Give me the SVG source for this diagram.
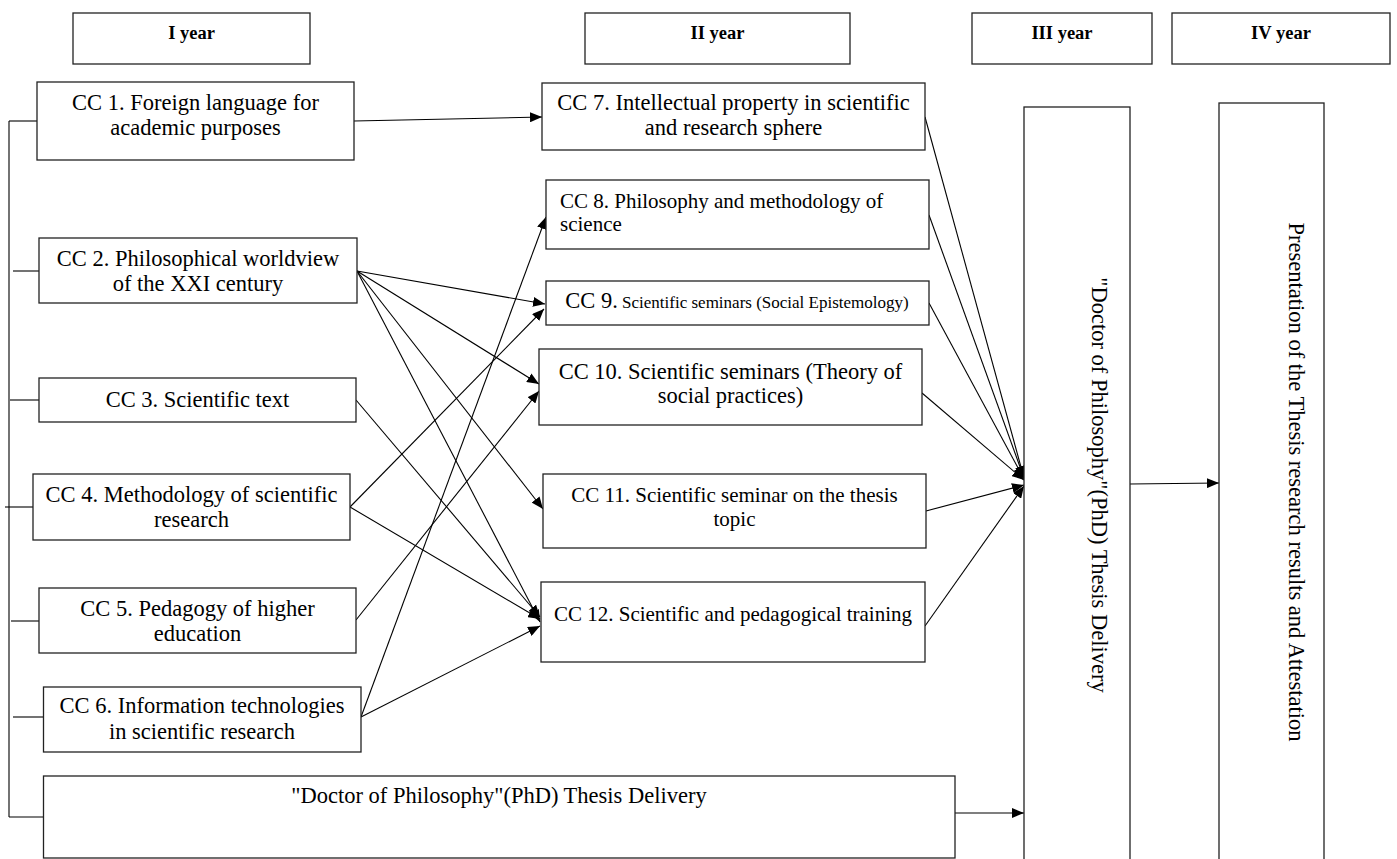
<svg xmlns="http://www.w3.org/2000/svg" width="1397" height="859" viewBox="0 0 1397 859">
<style>
  .box { fill: #ffffff; stroke: #222222; stroke-width: 1.3; }
  .t { font-family: "Liberation Serif", "Times New Roman", serif; font-size: 22.5px; fill: #000; }
  .c { text-anchor: middle; }
  .s21 { font-size: 21px; }
  .h { font-family: "Liberation Serif", "Times New Roman", serif; font-size: 18.5px; font-weight: bold; fill: #000; text-anchor: middle; }
  .sm { font-size: 17px; }
  .ln { stroke: #000; stroke-width: 1.1; fill: none; }
  .ar { stroke: #000; stroke-width: 1.1; fill: none; marker-end: url(#arrow); }
</style>
<defs>
  <marker id="arrow" markerUnits="userSpaceOnUse" markerWidth="13" markerHeight="10" refX="12" refY="5" orient="auto">
    <path d="M0,0 L12,5 L0,10 Z" fill="#000"/>
  </marker>
</defs>
<rect x="0" y="0" width="1397" height="859" fill="#ffffff"/>

<g id="headers">
  <g id="h1"><rect class="box" x="73" y="13" width="237" height="51"/><text class="h" x="191.5" y="39">I year</text></g>
  <g id="h2"><rect class="box" x="585" y="13" width="265" height="51"/><text class="h" x="717.5" y="39">II year</text></g>
  <g id="h3"><rect class="box" x="972" y="13" width="180" height="51"/><text class="h" x="1062" y="39">III year</text></g>
  <g id="h4"><rect class="box" x="1172" y="13" width="218" height="51"/><text class="h" x="1281" y="39">IV year</text></g>
</g>

<g id="connectors">
  <path class="ln" d="M9,121 V817"/>
  <path class="ln" d="M9,121 H37"/>
  <path class="ln" d="M13,271 H39"/>
  <path class="ln" d="M10,400 H39"/>
  <path class="ln" d="M5,507 H33"/>
  <path class="ln" d="M11,621 H39"/>
  <path class="ln" d="M13,717 H43"/>
  <path class="ln" d="M9,817 H43"/>

  <line class="ar" x1="354" y1="121" x2="542" y2="117"/>
  <line class="ar" x1="357" y1="271" x2="545" y2="304"/>
  <line class="ar" x1="357" y1="271" x2="539" y2="384"/>
  <line class="ar" x1="357" y1="271" x2="543" y2="509"/>
  <line class="ar" x1="357" y1="271" x2="540" y2="622"/>
  <line class="ar" x1="356" y1="400" x2="540" y2="617"/>
  <line class="ar" x1="350" y1="507" x2="544" y2="309"/>
  <line class="ar" x1="350" y1="507" x2="540" y2="619"/>
  <line class="ar" x1="356" y1="620" x2="539" y2="391"/>
  <line class="ar" x1="361" y1="717" x2="546" y2="217"/>
  <line class="ar" x1="361" y1="717" x2="540" y2="626"/>

  <line class="ar" x1="925" y1="117" x2="1024" y2="478"/>
  <line class="ar" x1="929" y1="215" x2="1024" y2="478"/>
  <line class="ar" x1="929" y1="303" x2="1024" y2="479"/>
  <line class="ar" x1="922" y1="393" x2="1024" y2="480"/>
  <line class="ar" x1="926" y1="511" x2="1024" y2="485"/>
  <line class="ar" x1="925" y1="626" x2="1024" y2="486"/>

  <line class="ar" x1="1130" y1="484" x2="1219" y2="483"/>
  <line class="ar" x1="955" y1="813" x2="1024" y2="813"/>
</g>

<g id="cc1"><rect class="box" x="37" y="82" width="317" height="78"/>
  <text class="t c" x="195.5" y="110">CC 1. Foreign language for</text>
  <text class="t c" x="195.5" y="135">academic purposes</text></g>
<g id="cc2"><rect class="box" x="39" y="238" width="318" height="65"/>
  <text class="t c" x="198" y="266">CC 2. Philosophical worldview</text>
  <text class="t c" x="198" y="291">of the XXI century</text></g>
<g id="cc3"><rect class="box" x="39" y="378" width="317" height="44"/>
  <text class="t c" x="197.5" y="407">CC 3. Scientific text</text></g>
<g id="cc4"><rect class="box" x="33" y="474" width="317" height="66"/>
  <text class="t c" x="191.5" y="502">CC 4. Methodology of scientific</text>
  <text class="t c" x="191.5" y="527">research</text></g>
<g id="cc5"><rect class="box" x="39" y="588" width="317" height="65"/>
  <text class="t c" x="197.5" y="616">CC 5. Pedagogy of higher</text>
  <text class="t c" x="197.5" y="641">education</text></g>
<g id="cc6"><rect class="box" x="43.5" y="687" width="317.5" height="65"/>
  <text class="t c" x="202" y="713">CC 6. Information technologies</text>
  <text class="t c" x="202" y="739">in scientific research</text></g>
<g id="thesis1"><rect class="box" x="43.5" y="776" width="911.5" height="82"/>
  <text class="t c" x="499" y="803">"Doctor of Philosophy"(PhD) Thesis Delivery</text></g>

<g id="cc7"><rect class="box" x="542" y="83" width="383" height="67"/>
  <text class="t c" x="733.5" y="110">CC 7. Intellectual property in scientific</text>
  <text class="t c" x="733.5" y="135">and research sphere</text></g>
<g id="cc8"><rect class="box" x="546" y="180" width="383" height="69"/>
  <text class="t s21" x="560" y="208">CC 8. Philosophy and methodology of</text>
  <text class="t s21" x="560" y="231">science</text></g>
<g id="cc9"><rect class="box" x="546" y="281" width="383" height="44"/>
  <text class="t c" x="737" y="308">CC 9.<tspan class="sm"> Scientific seminars (Social Epistemology)</tspan></text></g>
<g id="cc10"><rect class="box" x="539" y="349" width="383" height="76"/>
  <text class="t c" x="730.5" y="379">CC 10. Scientific seminars (Theory of</text>
  <text class="t c" x="730.5" y="403">social practices)</text></g>
<g id="cc11"><rect class="box" x="543" y="474" width="383" height="74"/>
  <text class="t c s21" x="734.5" y="502">CC 11. Scientific seminar on the thesis</text>
  <text class="t c s21" x="734.5" y="526">topic</text></g>
<g id="cc12"><rect class="box" x="541" y="582" width="384" height="80"/>
  <text class="t c s21" x="733" y="621">CC 12. Scientific and pedagogical training</text></g>

<g id="thesis3"><rect class="box" x="1024" y="107" width="106" height="770"/>
  <text class="t c" transform="translate(1092,485) rotate(90)">"Doctor of Philosophy"(PhD) Thesis Delivery</text></g>
<g id="attest4"><rect class="box" x="1219" y="103" width="105" height="780"/>
  <text class="t c" transform="translate(1289,482) rotate(90)">Presentation of the Thesis research results and Attestation</text></g>
</svg>
